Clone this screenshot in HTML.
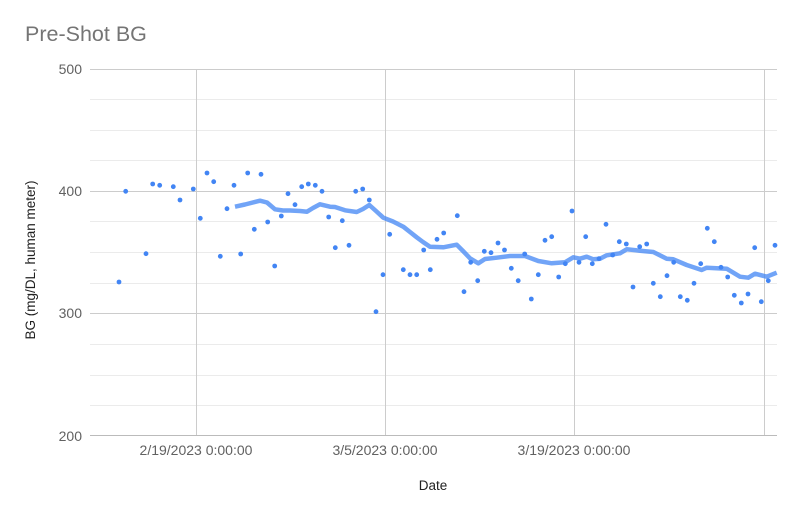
<!DOCTYPE html>
<html><head><meta charset="utf-8"><style>
html,body{margin:0;padding:0;background:#fff;}
svg{display:block;font-family:"Liberation Sans",Arial,sans-serif;}
</style></head><body>
<svg width="800" height="514" viewBox="0 0 800 514" xmlns="http://www.w3.org/2000/svg">
<defs>
<marker id="dot" markerUnits="userSpaceOnUse" markerWidth="6" markerHeight="6" refX="3" refY="3" viewBox="0 0 6 6" overflow="visible">
<circle cx="3" cy="3" r="2.4" fill="#4285f4"/>
</marker>
</defs>
<rect width="800" height="514" fill="#fff"/>
<text x="25" y="41" font-size="21.5" fill="#757575">Pre-Shot BG</text>
<path stroke="#ebebeb" stroke-width="1" fill="none" d="M90 99.5H777M90 130.5H777M90 160.5H777M90 221.5H777M90 252.5H777M90 283.5H777M90 344.5H777M90 375.5H777M90 405.5H777"/>
<path stroke="#cccccc" stroke-width="1" fill="none" d="M90 69.5H777M90 191.5H777M90 313.5H777M196.5 69V436M385.5 69V436M574.5 69V436M764.5 69V436"/>
<line x1="90" x2="777" y1="435.5" y2="435.5" stroke="#bbbbbb" stroke-width="1"/>
<g font-size="14" fill="#616161" text-anchor="end">
<text x="82" y="74">500</text>
<text x="82" y="196">400</text>
<text x="82" y="318">300</text>
<text x="82" y="441">200</text>
</g>
<g font-size="14" fill="#616161" text-anchor="middle">
<text x="196" y="455">2/19/2023 0:00:00</text>
<text x="385" y="455">3/5/2023 0:00:00</text>
<text x="574" y="455">3/19/2023 0:00:00</text>
</g>
<text x="433" y="490" font-size="13.5" fill="#222" text-anchor="middle">Date</text>
<text transform="translate(35,260) rotate(-90)" font-size="13.5" fill="#222" text-anchor="middle">BG (mg/DL, human meter)</text>
<polyline fill="none" stroke="#4285f4" stroke-opacity="0.75" stroke-width="4.5" stroke-linejoin="round" points="235,206.7 245,204.5 260,200.7 267,202.5 275,209.3 283,210.5 290,210.5 300,211 307,211.7 313,208 320,204.3 330,206.7 335,207 345,210.3 356.7,212 363,209 369.3,205 376,211 383.3,217.7 393,221.5 403.3,226.7 410,232 416.7,237.3 423,242 430,246.7 443.3,247.3 456.7,244.7 463,251 470,258.3 478.3,263.3 485,259 496.7,257.7 510,256 525,256 538.3,261 551.7,263.3 565,262.3 573.3,257.3 580,258.7 586.7,256.7 593.3,259.3 600,258.7 606.7,255.3 620,253.3 626.7,249.3 640,250.7 653.3,252 666.7,258.7 673.3,259.3 686.7,265 701.7,270 706.7,267.7 726.7,268.7 740,276.7 748.3,277.7 755,273.7 766.7,276.7 776.7,272.7"/>
<polyline fill="none" stroke="none" marker-start="url(#dot)" marker-mid="url(#dot)" marker-end="url(#dot)" points="119,282 125.7,191.3 146,253.7 152.7,184 159.7,185.3 173.3,186.7 180,200 193.3,189 200.3,218.3 207,173 213.7,181.7 220.3,256.3 227,208.7 234,185.3 240.7,254 247.7,173 254.3,229.3 261,174.3 267.7,222 274.7,266 281.3,216 288,193.7 295,204.7 301.7,186.7 308.3,184 315.3,185.3 322,191.3 328.7,217 335.3,247.7 342.3,220.7 349,245.3 355.7,191.3 362.7,189 369.3,200 376,311.7 383,274.7 389.7,234.3 403.3,269.7 410,274.7 416.7,274.7 423.7,250 430.3,269.7 437,239.3 443.7,233 457.3,215.7 464,291.7 470.7,262.3 477.7,280.7 484.3,251.3 491,252.7 498,243 504.5,250 511.3,268.3 518.2,280.7 524.7,254 531.3,299 538.3,274.7 545,240.3 551.7,236.7 558.7,277 565.3,263.7 572,211 579,262.3 585.7,236.7 592.3,263.7 599,258.7 606,224.3 612.7,255 619.3,241.7 626.3,244 633,287 639.7,246.7 646.7,244 653.3,283.3 660.3,296.7 667,275.7 673.7,262.3 680.3,296.7 687.3,300.3 694,283.3 700.7,263.7 707.3,228.3 714.3,241.7 721,267.3 727.7,277 734.3,295.3 741.3,303 748,294 754.7,247.7 761.3,301.7 768.3,280.7 775,245.3"/>
</svg>
</body></html>
